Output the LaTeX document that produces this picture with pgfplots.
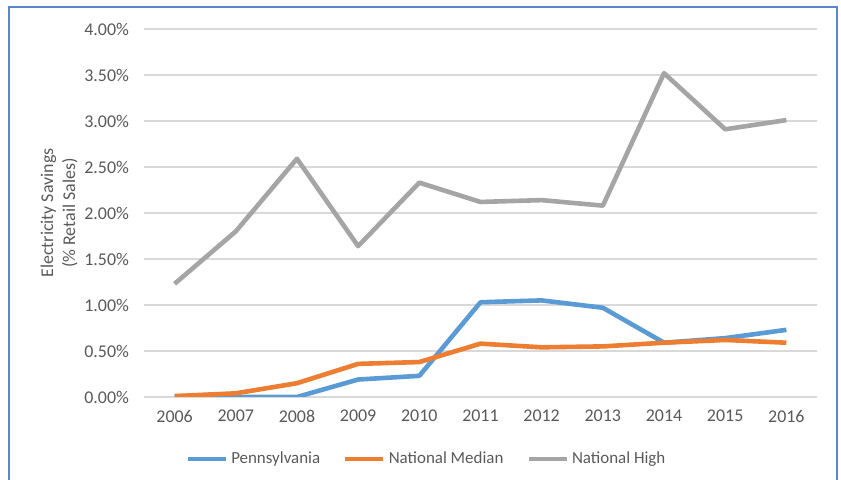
\documentclass[border=0pt]{standalone}
\usepackage{pgfplots}
\pgfplotsset{compat=1.18}
\usepackage{fontspec}
\setmainfont{Carlito}
\definecolor{pa}{HTML}{5B9BD5}
\definecolor{med}{HTML}{ED7D31}
\definecolor{high}{HTML}{A5A5A5}
\definecolor{txt}{HTML}{595959}
\definecolor{grd}{HTML}{D9D9D9}
\definecolor{frm}{HTML}{5B87CC}
\begin{document}
\begin{tikzpicture}
\useasboundingbox (0,0) rectangle (420.5bp,240bp);
\draw[frm, line width=1bp] (4.5bp,-10bp) -- (4.5bp,236.5bp) -- (418.5bp,236.5bp) -- (418.5bp,-10bp);
\begin{axis}[
    at={(72bp,41.5bp)}, anchor=south west,
    scale only axis, width=336.5bp, height=184bp,
    xmin=2005.5, xmax=2016.5, ymin=0, ymax=4,
    xtick={2006,...,2016}, ytick={0,0.5,...,4},
    axis line style={draw=none},
    major tick length=0,
    ymajorgrids, major grid style={grd, line width=0.75bp},
    font=\fontsize{9}{11}\selectfont\color{txt},
    /pgf/number format/assume math mode=true,
    xticklabel style={/pgf/number format/1000 sep={}, yshift=-3bp},
    yticklabel={\pgfmathprintnumber[fixed,fixed zerofill,precision=2]{\tick}\%},
    yticklabel style={xshift=-4bp},
    ylabel={Electricity Savings\\(\% Retail Sales)},
    ylabel style={at={(axis description cs:-0.126,0.5)}, anchor=center, align=center, font=\fontsize{9}{11}\selectfont\color{txt}},
    legend columns=-1,
    legend style={at={(axis description cs:0.4205,-0.168)}, anchor=center, draw=none, fill=none,
        font=\fontsize{8.5}{10}\selectfont\color{txt},
        nodes={inner xsep=1.5bp},
        /tikz/every even column/.append style={column sep=10bp}},
    legend image code/.code={\draw[#1] (0bp,0bp) -- (19bp,0bp);},
    every axis plot/.append style={line width=2.3bp, line join=round},
]
\addplot[pa] coordinates {(2006,0) (2007,0) (2008,0) (2009,0.19) (2010,0.23) (2011,1.03) (2012,1.05) (2013,0.97) (2014,0.59) (2015,0.64) (2016,0.73)};
\addlegendentry{Pennsylvania}
\addplot[med] coordinates {(2006,0.01) (2007,0.04) (2008,0.15) (2009,0.36) (2010,0.38) (2011,0.58) (2012,0.54) (2013,0.55) (2014,0.59) (2015,0.62) (2016,0.59)};
\addlegendentry{National Median}
\addplot[high] coordinates {(2006,1.23) (2007,1.80) (2008,2.59) (2009,1.64) (2010,2.33) (2011,2.12) (2012,2.14) (2013,2.08) (2014,3.52) (2015,2.91) (2016,3.01)};
\addlegendentry{National High}
\end{axis}
\end{tikzpicture}
\end{document}
